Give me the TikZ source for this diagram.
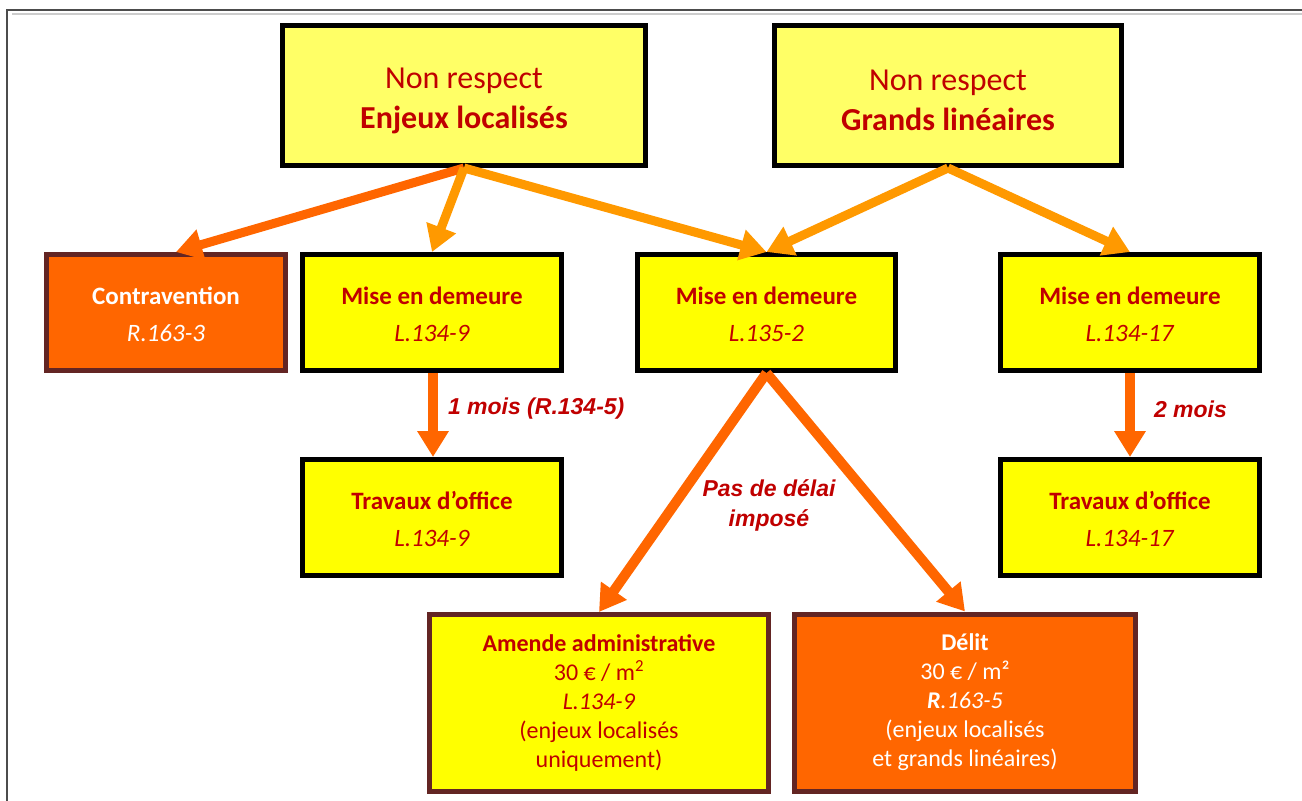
\documentclass[tikz,border=0pt]{standalone}
\usepackage{fontspec}
\setmainfont{Carlito}
\newfontfamily\arialfont{Liberation Sans}
\usetikzlibrary{arrows.meta}
\usetikzlibrary{positioning}
\usetikzlibrary{shadows}

\definecolor{jauneclair}{HTML}{FFFF66}
\definecolor{jaune}{HTML}{FFFF00}
\definecolor{orange}{HTML}{FF6600}
\definecolor{ambre}{HTML}{FF9900}
\definecolor{brun}{HTML}{632523}
\definecolor{rouge}{HTML}{C00000}

\begin{document}
\begin{tikzpicture}[x=1pt,y=-1pt,
    boite/.style={draw=black,line width=5pt,fill=jaune,text=rouge,align=center,
      inner sep=0pt,minimum width=259pt,minimum height=116pt,
      font=\fontsize{25}{37}\selectfont,
      drop shadow={shadow xshift=1.5pt,shadow yshift=-1.5pt,fill=black!35,opacity=1}},
    haut/.style={boite,fill=jauneclair,minimum height=140pt,font=\fontsize{32}{40}\selectfont},
    sanction/.style={boite,draw=brun,minimum height=177pt,minimum width=340pt,
      font=\fontsize{24}{29}\selectfont},
    fleche/.style={line width=10pt,-{Triangle[width=30pt,length=26pt]}},
    legende/.style={text=rouge,inner sep=1pt,align=center,
      font=\arialfont\bfseries\itshape\fontsize{23}{30}\selectfont}]
  \useasboundingbox (0,0) rectangle (1302,801);
  % cadre
  \draw[black!20,line width=2pt] (12,14) -- (1302,14);
  \draw[black!70,line width=1.5pt] (7,801) -- (7,10) -- (1302,10);

  % non respect
  \node[haut,minimum width=363pt] (enjeux) at (464,95.5) {\rule{0pt}{31pt}Non respect\\\textbf{Enjeux localisés}};
  \node[haut,minimum width=347pt] (lineaires) at (948,95.5) {\rule{0pt}{31pt}Non respect\\\textbf{Grands linéaires}};

  % deuxieme rang
  \node[boite,draw=brun,fill=orange,text=white,minimum width=239pt] (contra) at (166,312.5)
    {\rule{0pt}{21pt}\textbf{Contravention}\\\textit{R.163-3}};
  \node[boite] (mise1) at (432,312.5) {\rule{0pt}{21pt}\textbf{Mise en demeure}\\\textit{L.134-9}};
  \node[boite,minimum width=258pt] (mise2) at (766.5,312.5) {\rule{0pt}{21pt}\textbf{Mise en demeure}\\\textit{L.135-2}};
  \node[boite] (mise3) at (1130,312.5) {\rule{0pt}{21pt}\textbf{Mise en demeure}\\\textit{L.134-17}};

  % travaux d'office
  \node[boite] (trav1) at (432,517.5) {\rule{0pt}{21pt}\textbf{Travaux d’office}\\\textit{L.134-9}};
  \node[boite] (trav2) at (1130,517.5) {\rule{0pt}{21pt}\textbf{Travaux d’office}\\\textit{L.134-17}};

  % amende et delit
  \node[sanction,minimum width=339pt] (amende) at (599,703)
    {\textbf{Amende administrative}\\30 € / m\textsuperscript{2}\\\textit{L.134-9}\\(enjeux localisés\\uniquement)};
  \node[sanction,fill=orange,text=white,minimum width=341pt] (delit) at (965,702.5)
    {\textbf{Délit}\\30 € / m²\\\textbf{\textit{R}}\textit{.163-5}\\(enjeux localisés\\et grands linéaires)};

  % fleches
  \draw[fleche,orange,line width=9pt] (enjeux.south) -- ([xshift=10pt]contra.north);
  \draw[fleche,ambre,line width=9pt] (enjeux.south) -- (mise1.north);
  \draw[fleche,ambre,line width=9pt] (enjeux.south) -- (mise2.north);
  \draw[fleche,ambre,line width=9pt] (lineaires.south) -- (mise2.north);
  \draw[fleche,ambre,line width=9pt] (lineaires.south) -- (mise3.north);

  \draw[fleche,orange] ([xshift=1pt]mise1.south) -- node[legende,right=9pt,yshift=6pt] (delai1) {1 mois (R.134-5)} ([xshift=1pt]trav1.north);
  \draw[fleche,orange] (mise3.south) -- node[legende,right=18pt,yshift=6pt] (delai2) {2 mois} (trav2.north);

  \draw[fleche,orange] (mise2.south) -- (amende.north);
  \draw[fleche,orange] (mise2.south) -- (delit.north);
  \node[legende] (delai3) at (769,505) {Pas de délai\\imposé};
\end{tikzpicture}
\end{document}
